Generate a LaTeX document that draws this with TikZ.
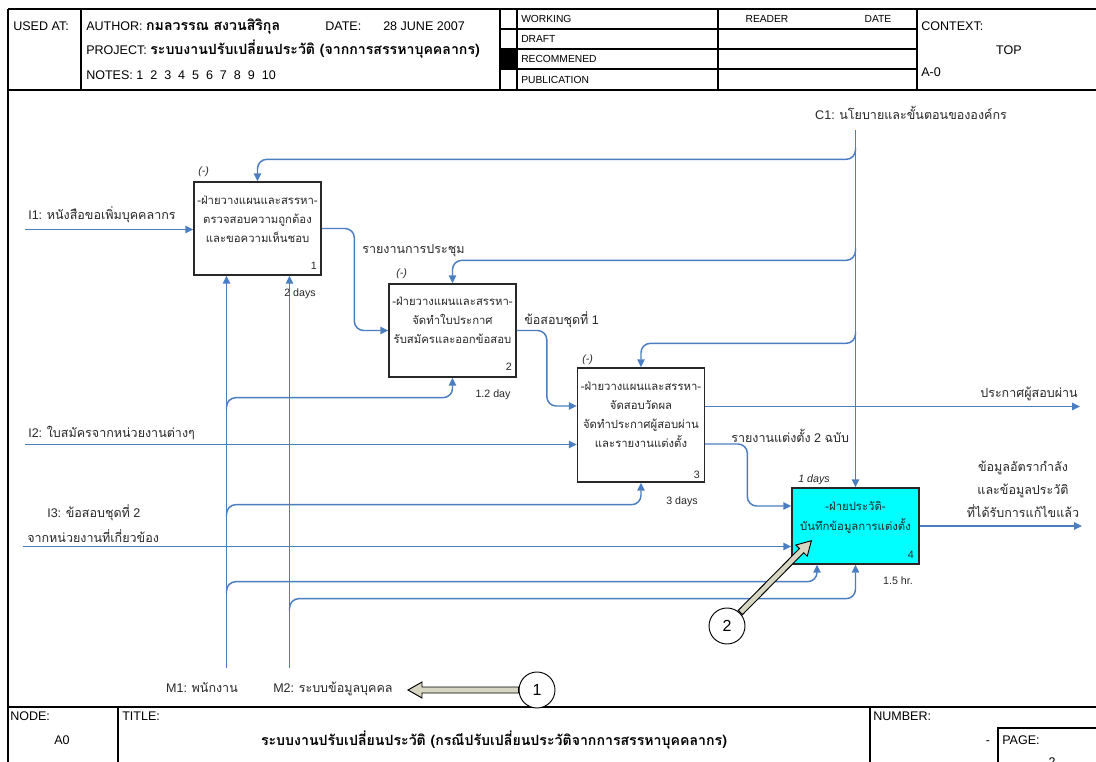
\documentclass[tikz,border=0pt]{standalone}
\usepackage{fontspec}
\setmainfont{Liberation Sans}
\newfontfamily\thaif[Script=Thai]{Loma}
\newcommand\thai[1]{{\thaif #1}}
\newcommand\thaibig[1]{{\thaif\bfseries\fontsize{10.6}{12}\selectfont #1}}
\usetikzlibrary{arrows.meta,calc}
\definecolor{flowblue}{RGB}{74,126,193}
\definecolor{boxcyan}{RGB}{0,255,255}
\definecolor{calloutfill}{RGB}{214,214,194}
\definecolor{inkgray}{RGB}{40,40,40}

\begin{document}
\begin{tikzpicture}[x=0.75pt,y=-0.75pt,
  frame/.style={draw=black, line width=0.8pt},
  heavyframe/.style={draw=black, line width=1.4pt},
  actbox/.style={draw=inkgray, line width=1pt, fill=white, minimum width=95.25pt, minimum height=69.75pt, inner sep=0pt},
  flow/.style={draw=flowblue, line width=1.1pt, rounded corners=7pt, -{Triangle[length=6pt,width=5.5pt]}},
  hdr/.style={font=\fontsize{9.4}{11}\selectfont, inner sep=0pt, text=black},
  stat/.style={font=\fontsize{7.7}{9}\selectfont, inner sep=0pt, text=black},
  lbl/.style={font=\fontsize{9.4}{11}\selectfont, inner sep=0pt, text=inkgray},
  boxtxt/.style={font=\fontsize{8.5}{10}\selectfont\thaif, inner sep=0pt, text=inkgray, anchor=base},
  note/.style={font=\fontsize{8}{10}\selectfont, inner sep=0pt, text=inkgray},
  callout/.style={draw=black, line width=0.7pt, fill=white, circle, minimum size=27pt, inner sep=0pt, font=\fontsize{12}{14}\selectfont},
  callarrow/.style={draw=black, line width=0.7pt, fill=calloutfill, line join=miter}
]
\useasboundingbox (0,0) rectangle (1096,762);
\fill[white] (0,0) rectangle (1096,762);

% ---------- header block ----------
\draw[frame] (8,9) -- (1096,9);
\draw[frame] (8,90) -- (1096,90);
\draw[frame] (8,9) -- (8,762);
\draw[heavyframe] (81,9) -- (81,90);
\draw[heavyframe] (500,9) -- (500,90);
\draw[frame] (517,9) -- (517,90);
\draw[frame] (718,9) -- (718,90);
\draw[frame] (917,9) -- (917,90);
\draw[frame] (500,29) -- (917,29);
\draw[frame] (500,49) -- (917,49);
\draw[frame] (500,69) -- (917,69);
\fill[black] (500,49) rectangle (517,69);

\node[hdr, anchor=base west] (usedat) at (13,30.5) {USED AT:};
\node[hdr, anchor=base west] (author) at (86,30.5) {AUTHOR: \thaibig{กมลวรรณ สงวนสิริกุล}};
\node[hdr, anchor=base west] (datelbl) at (325,30.5) {DATE:};
\node[hdr, anchor=base west] (dateval) at (383,30.5) {28 JUNE 2007};
\node[hdr, anchor=base west] (project) at (86,55) {PROJECT: \thaibig{ระบบงานปรับเปลี่ยนประวัติ (จากการสรรหาบุคคลากร)}};
\node[hdr, anchor=base west] (notes) at (86,80) {NOTES: 1\ \ 2\ \ 3\ \ 4\ \ 5\ \ 6\ \ 7\ \ 8\ \ 9\ \ 10};

\node[stat, anchor=base west] (working) at (521,23) {WORKING};
\node[stat, anchor=base west] (draft) at (521,43) {DRAFT};
\node[stat, anchor=base west] (recom) at (521,63) {RECOMMENED};
\node[stat, anchor=base west] (publ) at (521,84) {PUBLICATION};
\node[stat, anchor=base] (reader) at (767,23) {READER};
\node[stat, anchor=base] (rdate) at (878,23) {DATE};

\node[hdr, anchor=base west] (context) at (921,31) {CONTEXT:};
\node[hdr, anchor=base] (top) at (1009,55) {TOP};
\node[hdr, anchor=base west] (azero) at (921,76.5) {A-0};

% ---------- footer block ----------
\draw[frame] (8,707) -- (1096,707);
\draw[frame] (118,707) -- (118,762);
\draw[frame] (870,707) -- (870,762);
\draw[frame] (998,762) -- (998,728) -- (1096,728);

\node[hdr, anchor=base west] (nodelbl) at (10,720) {NODE:};
\node[hdr, anchor=base west] (titlelbl) at (122,720) {TITLE:};
\node[hdr, anchor=base west] (numlbl) at (873,720) {NUMBER:};
\node[hdr, anchor=base] (azero2) at (62,744) {A0};
\node[hdr, anchor=base] (title) at (494,745) {\thaibig{ระบบงานปรับเปลี่ยนประวัติ (กรณีปรับเปลี่ยนประวัติจากการสรรหาบุคคลากร)}};
\node[hdr, anchor=base] (dash) at (988,744) {-};
\node[hdr, anchor=base west] (page) at (1002,744) {PAGE:};
\node[hdr, anchor=base] (pagenum) at (1052,766) {2};

% ---------- activity boxes ----------
\node[actbox] (b1) at (257.5,228.5) {};
\node[actbox] (b2) at (452.5,330.5) {};
\node[actbox, minimum height=85.5pt] (b3) at (641,425) {};
\node[actbox, fill=boxcyan, minimum height=57pt] (b4) at (855.5,526) {};

\node[boxtxt] (b1l1) at (257.5,205) {-ฝ่ายวางแผนและสรรหา-};
\node[boxtxt] (b1l2) at (257.5,224) {ตรวจสอบความถูกต้อง};
\node[boxtxt] (b1l3) at (257.5,243) {และขอความเห็นชอบ};
\node[note, anchor=base east] (b1n) at (317,270) {1};
\node[note, anchor=base west] (b1c) at (198,175) {\textit{(-)}};

\node[boxtxt] (b2l1) at (452.5,306) {-ฝ่ายวางแผนและสรรหา-};
\node[boxtxt] (b2l2) at (452.5,325) {จัดทำใบประกาศ};
\node[boxtxt] (b2l3) at (452.5,344) {รับสมัครและออกข้อสอบ};
\node[note, anchor=base east] (b2n) at (512,371) {2};
\node[note, anchor=base west] (b2c) at (396,277) {\textit{(-)}};

\node[boxtxt] (b3l1) at (641,391) {-ฝ่ายวางแผนและสรรหา-};
\node[boxtxt] (b3l2) at (641,410) {จัดสอบวัดผล};
\node[boxtxt] (b3l3) at (641,429) {จัดทำประกาศผู้สอบผ่าน};
\node[boxtxt] (b3l4) at (641,448) {และรายงานแต่งตั้ง};
\node[note, anchor=base east] (b3n) at (700,479) {3};
\node[note, anchor=base west] (b3c) at (582,363) {\textit{(-)}};

\node[boxtxt] (b4l1) at (855.5,511) {-ฝ่ายประวัติ-};
\node[boxtxt] (b4l2) at (855.5,531) {บันทึกข้อมูลการแต่งตั้ง};
\node[note, anchor=base east] (b4n) at (914,559) {4};
\node[note, anchor=base] (b4c) at (814,483) {\textit{1 days}};

% ---------- free ends of the arrows ----------
\coordinate (i1) at (25,229.5);
\coordinate (i2) at (25,444.5);
\coordinate (i3) at (23,546.5);
\coordinate (c1) at (855.5,130);
\coordinate (m1) at (226.5,668);
\coordinate (m2) at (289.5,668);
\coordinate (o1) at (1080,406.5);
\coordinate (o2) at (1082,526);

% ---------- inputs ----------
\draw[flow] (i1) -- (i1 -| b1.west);
\draw[flow] (i2) -- (i2 -| b3.west);
\draw[flow] (i3) -- (i3 -| b4.west);

% ---------- box to box ----------
\draw[flow] (b1.east) -| ($(b2.west)+(-34,0)$) -- (b2.west);
\draw[flow] (b2.east) -| ($(b3.west)+(-30,-19)$) -- ($(b3.west)+(0,-19)$);
\draw[flow] ($(b3.east)+(0,19)$) -| ($(b4.west)+(-44,-20)$) -- ($(b4.west)+(0,-20)$);

% ---------- outputs ----------
\draw[flow] (o1 -| b3.east) -- (o1);
\draw[flow] (b4.east) -- (o2);

% ---------- controls: one trunk, branches split off it ----------
\draw[flow] (c1) -- (b4.north);
\draw[flow] ($(b1.north -| c1)+(0,-34)$) |- ($(b1.north)+(0,-22)$) -- (b1.north);
\draw[flow] ($(b2.north -| c1)+(0,-35)$) |- ($(b2.north)+(0,-23)$) -- (b2.north);
\draw[flow] ($(b3.north -| c1)+(0,-36)$) |- ($(b3.north)+(0,-24)$) -- (b3.north);

% ---------- mechanisms: one trunk each, branches split off ----------
\draw[flow] (m1) -- (m1 |- b1.south);
\draw[flow] (m2) -- (m2 |- b1.south);
\draw[flow] ($(m1 |- b2.south)+(0,32)$) |- ($(b2.south)+(0,20)$) -- (b2.south);
\draw[flow] ($(m1 |- b3.south)+(0,34)$) |- ($(b3.south)+(0,22)$) -- (b3.south);
\draw[flow] ($(m1 |- b4.south)+(0,29)$) |- ($(b4.south)+(-38.5,17)$) -- ($(b4.south)+(-38.5,0)$);
\draw[flow] ($(m2 |- b4.south)+(0,46)$) |- ($(b4.south)+(0,34)$) -- (b4.south);

% ---------- arrow labels ----------
\node[lbl, anchor=base west] (i1l) at (28,220) {I1: \thai{หนังสือขอเพิ่มบุคคลากร}};
\node[lbl, anchor=base west] (i2l) at (28,438) {I2: \thai{ใบสมัครจากหน่วยงานต่างๆ}};
\node[lbl, anchor=base west] (i3l) at (47,518) {I3: \thai{ข้อสอบชุดที่} 2};
\node[lbl, anchor=base west] (i3m) at (27,542) {\thai{จากหน่วยงานที่เกี่ยวข้อง}};
\node[lbl, anchor=base west] (r12) at (362,254) {\thai{รายงานการประชุม}};
\node[lbl, anchor=base west] (r23) at (524,325) {\thai{ข้อสอบชุดที่} 1};
\node[lbl, anchor=base west] (r34) at (731,443) {\thai{รายงานแต่งตั้ง} 2 \thai{ฉบับ}};
\node[lbl, anchor=base east] (o1l) at (1078,398) {\thai{ประกาศผู้สอบผ่าน}};
\node[lbl, anchor=base] (o2a) at (1023,472) {\thai{ข้อมูลอัตรากำลัง}};
\node[lbl, anchor=base] (o2b) at (1023,495) {\thai{และข้อมูลประวัติ}};
\node[lbl, anchor=base] (o2c) at (1023,518) {\thai{ที่ได้รับการแก้ไขแล้ว}};
\node[lbl, anchor=base] (c1l) at (911,120) {C1: \thai{นโยบายและขั้นตอนขององค์กร}};
\node[lbl, anchor=base] (m1l) at (202,692) {M1: \thai{พนักงาน}};
\node[lbl, anchor=base west] (m2l) at (273,692) {M2: \thai{ระบบข้อมูลบุคคล}};

\node[note, anchor=base] (t1) at (300,297) {2 days};
\node[note, anchor=base] (t2) at (493,398) {1.2 day};
\node[note, anchor=base] (t3) at (682,505) {3 days};
\node[note, anchor=base] (t4) at (898,585) {1.5 hr.};

% ---------- callouts ----------
\node[callout] (k1) at (537,690) {1};
\node[callout] (k2) at (727,626) {2};
\coordinate (k1tip) at (408,690);
\draw[callarrow] (k1tip) -- ++(14,-8) -- ++(0,5) -- ($(k1.west)+(0,-3)$) -- ($(k1.west)+(0,3)$)
  -- ($(k1tip)+(14,3)$) -- ++(0,5) -- cycle;
\begin{scope}[shift={(k2.center)}, rotate=45.3]
  \draw[callarrow] (120,0) -- (106,-8) -- (106,-3) -- (19,-3) -- (19,3) -- (106,3) -- (106,8) -- cycle;
\end{scope}
\end{tikzpicture}
\end{document}
